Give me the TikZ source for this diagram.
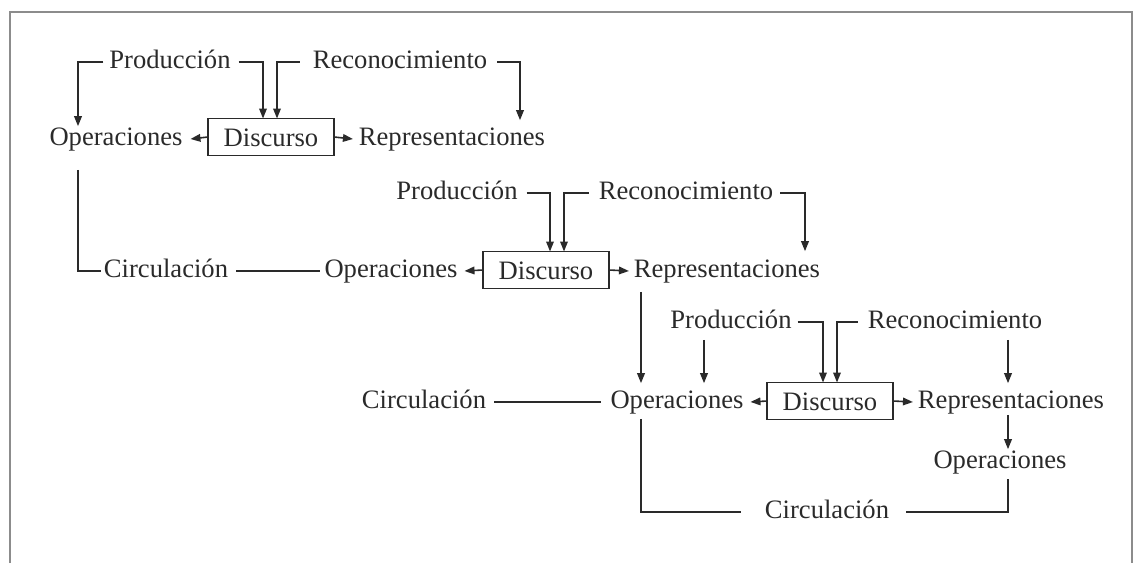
\documentclass[tikz,border=0pt]{standalone}
\usepackage{fontspec}
\setmainfont{Liberation Serif}
\usetikzlibrary{arrows.meta,calc}
\definecolor{ink}{HTML}{2A2A2A}
\definecolor{framec}{HTML}{8C8C8C}
\begin{document}
\begin{tikzpicture}[x=0.5pt,y=-0.5pt,
  lbl/.style={inner sep=0pt,outer sep=0pt,text=ink,font=\fontsize{13.3}{16}\selectfont,text height=0.78em,text depth=0.1em},
  dbox/.style={lbl,draw=ink,line width=0.8pt,minimum width=63pt,minimum height=18.5pt,text height=0.9em,text depth=0em},
  con/.style={draw=ink,line width=0.8pt},
  arr/.style={con,-{Triangle[length=5pt,width=3.8pt]}},
  frm/.style={draw=framec,line width=1.3pt}]
\useasboundingbox (0,0) rectangle (1136,563);
\draw[frm] (10,563) -- (10,12) -- (1132,12) -- (1132,563);

% Row 1
\node[lbl] (op1) at (116,139) {Operaciones};
\node[dbox] (box1) at (271,137) {Discurso};
\node[lbl] (rep1) at (452,139) {Representaciones};
\node[lbl] (prod1) at (170,62) {Producción};
\node[lbl] (rec1) at (400,62) {Reconocimiento};

% Row 2
\node[lbl] (circ1) at (166,271) {Circulación};
\node[lbl] (op2) at (391,271) {Operaciones};
\node[dbox] (box2) at (546,270) {Discurso};
\node[lbl] (rep2) at (727,271) {Representaciones};
\node[lbl] (prod2) at (457,193) {Producción};
\node[lbl] (rec2) at (686,193) {Reconocimiento};

% Row 3
\node[lbl] (circ2) at (424,402) {Circulación};
\node[lbl] (op3) at (677,402) {Operaciones};
\node[dbox] (box3) at (830,401) {Discurso};
\node[lbl] (rep3) at (1011,402) {Representaciones};
\node[lbl] (prod3) at (731,322) {Producción};
\node[lbl] (rec3) at (955,322) {Reconocimiento};
\node[lbl] (op4) at (1000,462) {Operaciones};
\node[lbl] (circ3) at (827,512) {Circulación};

% Row 1 connectors
\draw[arr] ($(prod1.west)+(-6,0)$) -| ($(op1.north)+(-38,-4)$);
\draw[arr] ($(prod1.east)+(8,0)$) -| ($(box1.north)+(-8,0)$);
\draw[arr] ($(rec1.west)+(-13,0)$) -| ($(box1.north)+(6,0)$);
\draw[arr] ($(rec1.east)+(10,0)$) -| ($(rep1.north)+(68,-10)$);
\draw[arr] (box1.west) -- ($(op1.east)+(8,0)$);
\draw[arr] (box1.east) -- ($(rep1.west)+(-6,0)$);
\draw[con] ($(op1.south)+(-38,22)$) |- ($(circ1.west)+(-3,0)$);
\draw[con] ($(circ1.east)+(8,0)$) -- ($(op2.west)+(-5,0)$);

% Row 2 connectors
\draw[arr] ($(prod2.east)+(9,0)$) -| ($(box2.north)+(4,0)$);
\draw[arr] ($(rec2.west)+(-10,0)$) -| ($(box2.north)+(18,0)$);
\draw[arr] ($(rec2.east)+(7,0)$) -| ($(rep2.north)+(78,-11)$);
\draw[arr] (box2.west) -- ($(op2.east)+(7,0)$);
\draw[arr] (box2.east) -- ($(rep2.west)+(-5,0)$);
\draw[arr] ($(rep2.south)+(-86,12)$) -- ($(op3.north)+(-36,-10)$);

% Row 3 connectors
\draw[con] ($(circ2.east)+(8,0)$) -- ($(op3.west)+(-10,0)$);
\draw[arr] ($(prod3.south)+(-27,9)$) -- ($(op3.north)+(27,-10)$);
\draw[arr] ($(prod3.east)+(6,0)$) -| ($(box3.north)+(-7,0)$);
\draw[arr] ($(rec3.west)+(-10,0)$) -| ($(box3.north)+(7,0)$);
\draw[arr] ($(rec3.south)+(53,9)$) -- ($(rep3.north)+(-3,-10)$);
\draw[arr] (box3.west) -- ($(op3.east)+(7,0)$);
\draw[arr] (box3.east) -- ($(rep3.west)+(-5,0)$);
\draw[arr] ($(rep3.south)+(-3,4)$) -- ($(op4.north)+(8,-4)$);
\draw[con] ($(op3.south)+(-36,8)$) |- ($(circ3.west)+(-24,0)$);
\draw[con] ($(circ3.east)+(17,0)$) -| ($(op4.south)+(8,8)$);
\end{tikzpicture}
\end{document}
